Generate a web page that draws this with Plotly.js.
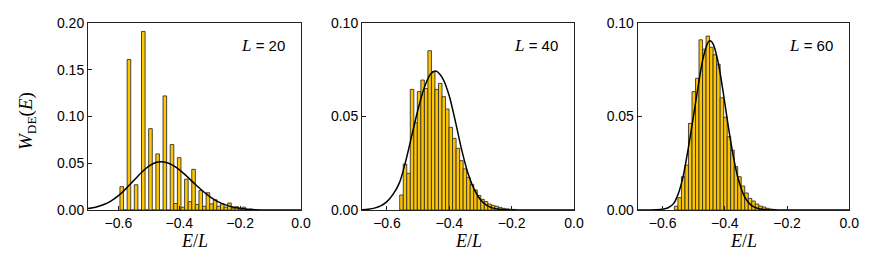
<!DOCTYPE html>
<html><head><meta charset="utf-8">
<script src="https://cdn.plot.ly/plotly-3.0.1.min.js"></script>
<style>html,body{margin:0;padding:0;background:#fff}#chart{width:877px;height:263px}</style>
</head><body><div id="chart"></div>
<script>
// ---- data ----
const labels = ["L = 20", "L = 40", "L = 60"];
// histogram bins (start of first bin, bin width) and bar heights
const binStart1 = -0.595, binWidth1 = 0.0118;
const hist1 = [0.025, 0, 0.161, 0, 0.027, 0, 0.191, 0, 0.087, 0, 0.060, 0, 0.122, 0, 0.070, 0.007, 0.056, 0.003,
  0.033, 0.009, 0.0435, 0.006, 0.021, 0.004, 0.0185, 0.0065, 0.011, 0.004, 0.0065, 0.003, 0.0075, 0.002, 0.0035, 0.001, 0.003, 0.0005, 0.001];
const binStart2 = -0.559, binWidth2 = 0.0113;
const hist2 = [0.008, 0.0246, 0.0196, 0.0645, 0.0467, 0.0633, 0.0695, 0.065, 0.0852, 0.074, 0.0645, 0.0677, 0.0606,
  0.054, 0.0442, 0.0383, 0.033, 0.0264, 0.022, 0.0174, 0.0136, 0.0107, 0.0078, 0.0057, 0.0045, 0.0032, 0.0025,
  0.002, 0.0014, 0.0009, 0.0006, 0.0004, 0.0003];
const binStart3 = -0.562, binWidth3 = 0.0113;
const hist3 = [0.002, 0.0066, 0.0178, 0.024, 0.0463, 0.0633, 0.0704, 0.091, 0.086, 0.093, 0.087, 0.083, 0.078, 0.060,
  0.0496, 0.0392, 0.032, 0.0232, 0.0178, 0.0128, 0.0091, 0.0062, 0.0048, 0.0032, 0.0021, 0.0016, 0.0009, 0.0005, 0.0003];
// smooth curves (E/L, W)
const curve1X = [-0.70, -0.675, -0.65, -0.625, -0.60, -0.575, -0.55, -0.525, -0.50, -0.475, -0.46, -0.45, -0.425, -0.40,
  -0.375, -0.35, -0.325, -0.30, -0.275, -0.25, -0.225, -0.20, -0.175, -0.15, -0.10, 0.0];
const curve1Y = [0.0015, 0.003, 0.0056, 0.0096, 0.0154, 0.0229, 0.0314, 0.0398, 0.0468, 0.051, 0.0517, 0.0514, 0.0486, 0.0432,
  0.036, 0.0282, 0.0208, 0.0144, 0.0093, 0.0057, 0.0033, 0.0018, 0.0009, 0.0004, 0.0001, 0.0];
const curve2X = [-0.68, -0.66, -0.64, -0.62, -0.60, -0.58, -0.56, -0.54, -0.52, -0.50, -0.48, -0.46, -0.446, -0.44, -0.42,
  -0.40, -0.38, -0.36, -0.34, -0.32, -0.30, -0.28, -0.26, -0.24, -0.22, -0.20, 0.0];
const curve2Y = [0.0001, 0.0004, 0.001, 0.0022, 0.0045, 0.0085, 0.0145, 0.026, 0.040, 0.054, 0.0655, 0.0727, 0.0743, 0.0741, 0.070,
  0.061, 0.047, 0.032, 0.0196, 0.011, 0.0055, 0.0025, 0.001, 0.0004, 0.0001, 0.0, 0.0];
const curve3X = [-0.68, -0.64, -0.62, -0.60, -0.582, -0.565, -0.55, -0.534, -0.5175, -0.5014, -0.485, -0.469, -0.453, -0.447,
  -0.437, -0.421, -0.405, -0.389, -0.373, -0.357, -0.336, -0.315, -0.293, -0.265, -0.235, 0.0];
const curve3Y = [0.0, 0.0, 0.0001, 0.0004, 0.0012, 0.0034, 0.0085, 0.018, 0.033, 0.0495, 0.067, 0.0818, 0.0899, 0.0905,
  0.0886, 0.0786, 0.0627, 0.0449, 0.029, 0.0167, 0.0069, 0.0025, 0.0008, 0.0002, 0.0, 0.0];
const xRanges = [[-0.7, 0], [-0.68, 0], [-0.68, 0]];
const yRanges = [[0, 0.2], [0, 0.1], [0, 0.1]];
const xTicks = [-0.6, -0.4, -0.2, 0.0];

// ---- drawing ----
const W = 877, H = 263;
const boxes = [[88, 301], [362, 574], [637.7, 849.3]];
const frameTop = 23, frameBottom = 210;
const barColor = '#FFC600', barLine = '#333333';
function centers(start, w, n) { const a = []; for (let i = 0; i < n; i++) a.push(start + (i + 0.5) * w); return a; }
const hists = [[binStart1, binWidth1, hist1], [binStart2, binWidth2, hist2], [binStart3, binWidth3, hist3]];
const curves = [[curve1X, curve1Y], [curve2X, curve2Y], [curve3X, curve3Y]];
const data = [];
const layout = {
  width: W, height: H, margin: {l: 0, r: 0, t: 0, b: 0}, showlegend: false,
  paper_bgcolor: '#fff', plot_bgcolor: '#fff', barmode: 'overlay', annotations: []
};
const tickfont = {family: 'Liberation Sans, Arial, sans-serif', size: 14, color: '#000'};
for (let p = 0; p < 3; p++) {
  const sx = p === 0 ? '' : String(p + 1);
  const [s, w, h] = hists[p];
  data.push({type: 'bar', x: centers(s, w, h.length), y: h, width: w, xaxis: 'x' + sx, yaxis: 'y' + sx,
    marker: {color: barColor, line: {color: barLine, width: 0.9}}, hoverinfo: 'skip'});
  data.push({type: 'scatter', mode: 'lines', x: curves[p][0], y: curves[p][1], xaxis: 'x' + sx, yaxis: 'y' + sx,
    line: {color: '#000', width: 1.5, shape: 'spline', smoothing: 0.8}, hoverinfo: 'skip'});
  const common = {showline: true, mirror: true, linecolor: '#222', linewidth: 1, ticks: 'inside', ticklen: 4,
    tickcolor: '#222', tickwidth: 1, showgrid: false, zeroline: false, tickfont: tickfont, fixedrange: true};
  layout['xaxis' + sx] = Object.assign({}, common, {domain: [boxes[p][0] / W, boxes[p][1] / W], range: xRanges[p],
    anchor: 'y' + sx, tickvals: xTicks, tickformat: '.1f'});
  layout['yaxis' + sx] = Object.assign({}, common, {domain: [1 - frameBottom / H, 1 - frameTop / H], range: yRanges[p],
    anchor: 'x' + sx, dtick: 0.05, tick0: 0, tickformat: '.2f'});
  const parts = labels[p].split(' = ');
  layout.annotations.push({xref: 'paper', yref: 'paper', x: (boxes[p][1] - 14) / W, y: 1 - 45 / H,
    xanchor: 'right', yanchor: 'middle', showarrow: false,
    text: '<span style="font-family:Liberation Serif;font-size:17px"><i>' + parts[0] + '</i></span> = ' + parts[1],
    font: {family: 'Liberation Sans, Arial, sans-serif', size: 15, color: '#000'}});
  layout.annotations.push({xref: 'paper', yref: 'paper', x: (boxes[p][0] + boxes[p][1]) / 2 / W, y: 1 - 241 / H,
    xanchor: 'center', yanchor: 'middle', showarrow: false, text: '<i>E</i>/<i>L</i>',
    font: {family: 'Liberation Serif, Times New Roman, serif', size: 18, color: '#000'}});
}
layout.annotations.push({xref: 'paper', yref: 'paper', x: 27 / W, y: 1 - 121 / H, xanchor: 'center', yanchor: 'middle',
  showarrow: false, textangle: -90, text: '<i>W</i><sub>DE</sub>(<i>E</i>)',
  font: {family: 'Liberation Serif, Times New Roman, serif', size: 19, color: '#000'}});
Plotly.newPlot('chart', data, layout, {staticPlot: true, displayModeBar: false});
</script></body></html>
